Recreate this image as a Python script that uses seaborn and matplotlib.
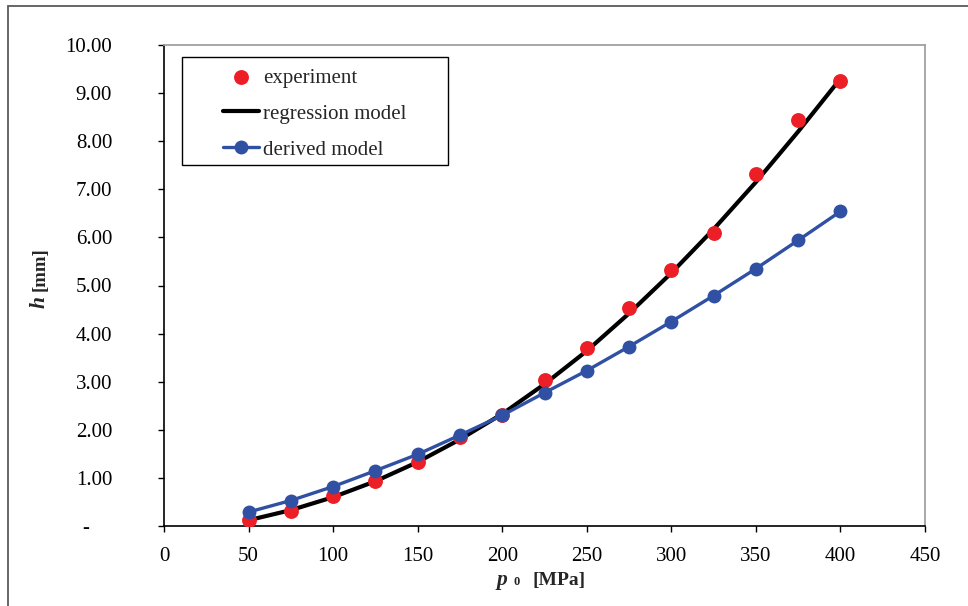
import numpy as np
import pandas as pd
import matplotlib
matplotlib.use('Agg')
import matplotlib.pyplot as plt
import seaborn as sns
from matplotlib.patches import Rectangle
from matplotlib.transforms import ScaledTranslation

# values
pressure = [50, 75, 100, 125, 150, 175, 200, 225, 250, 275, 300, 325, 350, 375, 400]
h_experiment = [0.13, 0.31, 0.62, 0.94, 1.33, 1.85, 2.30, 3.04, 3.70, 4.54, 5.33, 6.09, 7.31, 8.44, 9.26]
h_regression = [0.12, 0.33, 0.60, 0.93, 1.33, 1.80, 2.33, 2.95, 3.64, 4.42, 5.26, 6.17, 7.15, 8.20, 9.30]
h_derived = [0.29, 0.53, 0.82, 1.15, 1.49, 1.89, 2.30, 2.77, 3.23, 3.73, 4.25, 4.79, 5.35, 5.94, 6.54]
x_ticks = [0, 50, 100, 150, 200, 250, 300, 350, 400, 450]
y_ticks = [0, 1, 2, 3, 4, 5, 6, 7, 8, 9, 10]

df = pd.DataFrame({'p0': pressure, 'experiment': h_experiment,
                   'regression': h_regression, 'derived': h_derived})

sns.set_style('white')
plt.rcParams['font.family'] = ['Liberation Serif', 'DejaVu Serif']

red = '#ED1F26'
blue = '#2F50A3'

fig = plt.figure(figsize=(9.68, 6.06), dpi=100)
ax = fig.add_axes([164 / 968, 1 - 526 / 606, 761 / 968, 481 / 606])

sns.lineplot(data=df, x='p0', y='regression', ax=ax, color='black', lw=3.0,
             label='regression model', zorder=2)
sns.scatterplot(data=df, x='p0', y='experiment', ax=ax, color=red, s=115,
                linewidth=0, label='experiment', zorder=3)
sns.lineplot(data=df, x='p0', y='derived', ax=ax, color=blue, lw=2.4,
             marker='o', markersize=10, markeredgewidth=0,
             label='derived model', zorder=4)

ax.set_xlim(0, 450)
ax.set_ylim(0, 10)
ax.set_xticks(x_ticks)
ax.set_yticks(y_ticks)
ax.set_xticklabels([str(v) for v in x_ticks])
ax.set_yticklabels(['-' if v == 0 else f'{v:.2f}' for v in y_ticks])
ax.tick_params(axis='both', which='major', direction='out', length=4.3,
               width=1, colors='black', labelsize=15, left=True, bottom=True)
ax.tick_params(axis='y', pad=33)
ax.tick_params(axis='x', pad=11)
# the zero label sits further left, like an accounting "-"
zero_lbl = ax.get_yticklabels()[0]
zero_lbl.set_transform(zero_lbl.get_transform() + ScaledTranslation(-0.23, 0, fig.dpi_scale_trans))

ax.set_xlabel('')
ax.set_ylabel('')
for side in ['left', 'bottom']:
    ax.spines[side].set_color('black')
    ax.spines[side].set_linewidth(1.2)
for side in ['top', 'right']:
    ax.spines[side].set_color('#A0A0A0')
    ax.spines[side].set_linewidth(1.3)

# legend with a hand drawn box
handles, labels = ax.get_legend_handles_labels()
order = [labels.index('experiment'), labels.index('regression model'), labels.index('derived model')]
leg = ax.legend([handles[i] for i in order], [labels[i] for i in order],
                loc='upper left', bbox_to_anchor=(0.0775, 0.952), frameon=False,
                borderpad=0, borderaxespad=0, fontsize=15, handlelength=1.73,
                handletextpad=0.2, labelspacing=0.79)
ax.add_patch(Rectangle((0.0233, 0.7505), 0.3495, 0.2252, transform=ax.transAxes,
                       fill=False, edgecolor='black', lw=1, zorder=5))

# axis titles: italic symbol, small subscript, bold unit
fig.text(497 / 968, 1 - 585 / 606, 'p', fontsize=15.5, fontweight='bold', fontstyle='italic',
         ha='left', va='baseline')
fig.text(513 / 968, 1 - 585 / 606, '0', fontsize=9, fontweight='bold',
         ha='left', va='baseline')
fig.text(533 / 968, 1 - 585 / 606, '[MPa]', fontsize=14, fontweight='bold',
         ha='left', va='baseline')
fig.text(44.5 / 968, 1 - 308 / 606, 'h', fontsize=15.5, fontweight='bold', fontstyle='italic',
         rotation=90, rotation_mode='anchor', ha='left', va='baseline')
fig.text(44.5 / 968, 1 - 291 / 606, '[mm]', fontsize=13.5, fontweight='bold',
         rotation=90, rotation_mode='anchor', ha='left', va='baseline')

# outer chart border (cropped on right and bottom)
fig.add_artist(Rectangle((8 / 968, -0.1), 1.2, 1.1 - 5.5 / 606, transform=fig.transFigure,
                         fill=False, edgecolor='#5A5A5A', lw=1.3))

plt.savefig('out.png', dpi=100)
